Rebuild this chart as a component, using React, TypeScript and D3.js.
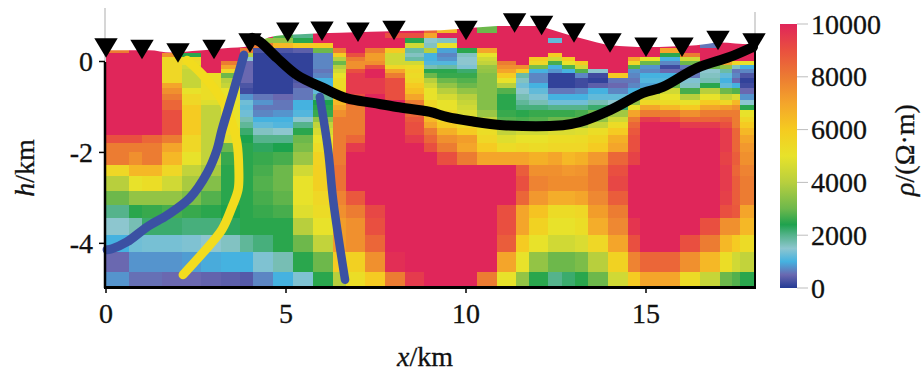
import React from "react";
import * as d3 from "d3";

const W = 921, H = 377;
const SERIF = "'Liberation Serif', serif";

// Cell edges (km)
const colEdges = [0,.64,1,1.56,2.11,2.64,3.19,3.72,4.08,4.64,5.19,5.75,6.31,6.67,7.19,7.75,8.31,8.83,9.19,9.75,10.31,10.86,11.39,11.75,12.28,12.67,13.03,13.39,13.94,14.5,14.83,15.39,15.94,16.5,17.06,17.39,17.61,18];
const rowEdges = [.78,.63,.52,.41,.3,.19,.1,.01,-.08,-.16,-.25,-.36,-.47,-.58,-.71,-.85,-.96,-1.07,-1.22,-1.33,-1.46,-1.62,-1.79,-1.99,-2.27,-2.52,-2.85,-3.15,-3.44,-3.81,-4.19,-4.63,-4.96];

// Resistivity (thousand ohm-metres), one list per column, top to bottom
const resistivity = [
[10,10,10,10,8,10,10,10, 10,10,10,10,10,10,10,10, 10,10,10,10,10,9,8,8, 5.5,4,3,2,1.5,1,.5,.8],
[10,10,10,10,10,10,10,10, 10,10,10,10,10,10,10,10, 10,10,10,10,10,9,8,7.5, 6.5,5,3.5,2.5,1.7,1.3,.8,.55],
[10,10,10,10,10,10,10,10, 10,10,10,10,10,10,10,10, 10,10,10,10,10,8.5,8,8, 6.5,5.2,3.5,2.6,2.2,1.35,.8,.55],
[10,10,10,10,10,7.5,5.5,5.5, 5.5,5.5,5.5,5.5,7,7.5,8,8.5, 8.5,9,9,9,9,8,7,6.5, 5.5,4.5,3.5,2.7,2.2,1.35,.8,.5],
[10,10,10,10,10,2.5,5.5,5.3, 4.5,4.3,4.3,4.3,4.3,5,5.5,5.5, 6,6,6,6,6,5.5,5.5,5, 4.2,3.8,3.2,2.6,2.1,1.4,.85,.5],
[10,10,10,10,10,10,10,10, 10,10,5.2,5.2,5.2,5.2,5.2,4.8, 4.2,4.2,4.2,4.2,4.2,4.2,4.2,4.2, 3.8,3.3,2.8,2.5,2.1,1.5,.95,.45],
[10,10,10,10,10,10,10,8, 7,5.5,3,4,4.3,5,5,5, 5,5,5,5,5.2,4.8,3,2.6, 2.5,2.5,2.5,2.4,2.3,1.6,1,.4],
[10,10,10,10,8,4,1.5,.5, .5,.5,.5,.5,.3,.2,.8,1.3, 1.2,1.3,1.7,1.9,2.2,2.4,2.5,2.5, 2.5,2.5,2.5,2.5,2.5,1.9,1,.35],
[10,10,3.5,8,.3,.1,.1,.1, .1,.1,.1,.1,.1,.1,.6,.8, .6,.7,1,1.2,1.6,2,2.3,2.6, 2.7,2.8,2.7,2.6,2.5,2.1,1.4,.7],
[10,2.8,3.5,6.5,.3,.1,.1,.1, .1,.1,.1,.1,.1,.1,.5,.6, .6,.8,1,1.1,1.5,2,2.4,2.7, 3,3,2.9,2.7,2.5,2.5,1.7,1],
[10,2,2.5,6,.4,.1,.1,.1, .1,.1,.1,.3,.4,.6,.6,1, 1,1.1,1.5,2,2.5,3,3.2,3.6, 4.5,5,5,4.8,4,3,2.5,1.4],
[10,10,10,6,3,.7,.7,.7, .7,.6,.7,1,1,1.2,1.9,2.4, 2.5,2.6,3.5,4.2,4.6,5,5.3,5.7, 5.8,5.8,5.5,5.3,5,4.2,3,2.5],
[10,10,10,10,8,6,4,3, 4,4.5,5,5.3,5.3,5.5,6,6.5, 7,7.5,8,8,8,8,8,8, 8.2,8.2,7.8,7.5,7.2,7.2,6,4],
[10,10,10,10,10,9,8,7.5, 7.5,9,9.5,9.5,9.5,9.5,9,8.5, 8,8,8,8,8,8.5,9.5,10, 10,10,8.8,8,7.5,7.5,5.8,5.2],
[10,10,10,10,8,7.2,7.2,7.5, 9,10,10,9.5,9.5,9.5,10,10, 10,10,10,10,10,10,10,10, 10,10,10,9.2,9,8.5,7.5,6],
[10,9,10,10,6,4.5,4.5,4.5, 5.5,7,8,9,9,9,9,10, 10,10,10,10,10,10,10,10, 10,10,10,10,10,10,9.8,8],
[10,9,2.5,4.5,1.8,1.6,1.8,4.5, 5.2,5.5,5.3,5.5,6,6.3,7,8, 8,8.5,8.8,9,9,9.5,10,10, 10,10,10,10,10,10,10,9.5],
[8.5,7,1.5,1.6,4,1,1,1.1, 1.7,2.5,3,4,4.5,5,5,5.5, 5.5,6,6.5,7,8,8.5,9,10, 10,10,10,10,10,10,10,10],
[6.5,10,1.6,5,.9,.7,.8,1.1, 1.8,2.5,2.6,3,3.5,4,4.6,5, 5,5.5,5.5,6,6.7,7.5,8,9, 10,10,10,10,10,10,10,10],
[10,10,10,10,2.5,1.6,1.5,1.5, 1.4,2.2,2.6,2.8,3,3.5,4,4.3, 4.5,4.7,5,5.5,6,7.2,7,8, 10,10,10,10,10,10,10,10],
[3,10,10,10,7,5,4.5,4.2, 3.6,3.5,3.3,3.3,3.3,3.3,3.3,3.3, 3.3,3.6,4.2,5,5.2,5.5,6,7, 10,10,10,10,10,10,10,8],
[10,10,10,10,10,10,10,8, 7.5,7,6,5,4,2.8,2.5,2.5, 2.5,2.6,2.8,3.5,4.2,4.8,5.3,7, 10,10,10,9,9,8.7,7,5],
[10,10,10,10,10,10,10,10, 7.5,6,1.8,1.6,1.3,1.5,1.7,1.9, 2.1,2.5,2.7,3.5,4.5,5,5.5,7, 8.7,9,8.5,7,7,6,5,3.5],
[10,10,10,10,10,10,6,5.5, 3.2,1,.7,.7,1,1.2,1.4,1.7, 2.1,2.6,2.8,3.5,4.5,5,5.3,6.7, 7.5,7.8,7.3,6.2,5.7,5,3.5,2.5],
[10,10,1.2,10,10,6,4.5,2.7, 1,.8,.1,.1,.1,.6,1,1.3, 2,2.6,3,3.7,4.7,5.2,5.5,7, 7.5,7.6,6.8,5.3,5,4.5,3,2],
[10,10,10,10,10,10,6,5, 2.8,1,.1,.1,.1,.6,1,1.3, 2,2.6,3,3.7,4.7,5.2,5.5,6.5, 7.3,7.6,6.8,5.3,5,4.5,3,2.2],
[10,10,10,10,10,10,10,6, 4.5,2.8,.7,.2,.2,.7,1,1.3, 2,2.7,3,3.7,4.8,5.3,5.5,6.7, 7.4,7.6,7,5.5,5.2,4.7,3.2,2.5],
[10,10,10,10,10,10,10,10, 10,1.5,.2,.1,.4,1,1.2,1.7, 2.2,3,3.5,4.3,5.2,5.6,6,7.3, 8,8,7.7,7.2,6.8,5.5,4,3],
[10,10,10,10,10,10,10,10, 10,10,6,.6,.5,.7,1.2,1.5, 2.2,3.7,4.5,5.3,6,6.7,7,8.5, 9,9.2,8.7,8,7.7,7,5.7,4.5],
[10,10,10,10,10,10,7,5.5, 2.8,.8,.7,.6,.7,1,1.5,3.5, 5,7,8,8.5,8.8,9,9,9.3, 10,10,10,10,9.6,9,7.8,6],
[10,10,10,10,10,10,5,3, .8,.7,1,1.1,.9,2.6,4.5,5.5, 7,8,9.5,10,10,10,10,10, 10,10,10,10,10,10,8.5,7],
[10,10,10,10,7,2.5,1,.7, .2,.5,1,1.1,3,4.5,5,5.3, 6.5,8,9,10,10,10,10,10, 10,10,10,10,10,10,8.5,7],
[10,10,10,10,10,8,4.5,3, .6,.4,.6,1.4,1.6,2.7,4,5, 6,7.5,8.5,9.5,10,10,10,10, 10,10,10,10,10,9,7.5,5.3],
[10,10,10,.6,10,10,10,5.5, 3,1.5,1.6,1.7,2.5,4,5,6, 7,8,8.5,9.5,10,10,10,10, 10,10,10,10,9,8,6.5,4.3],
[10,10,10,10,10,10,10,7, 3.5,1.8,1.2,1,1.2,3,4.3,5.5, 7.2,8,8.6,9,9.5,9.5,9.5,9.3, 9.5,9.5,9.4,9,7.5,6.5,5.2,3],
[10,10,10,10,10,10,10,5.5, 1.6,.6,.7,.5,1,2.8,4.7,6.5, 7.5,8,8,8,8.5,8.5,8.5,8.7, 8.5,8.7,8.7,8.8,7.5,6,4.5,2.8],
[10,10,10,10,10,10,10,5, 1,.7,.3,.1,.2,.5,.8,1.5, 2.5,5,5.5,6,6.5,7,7.3,7.5, 7.8,8,8,7,6.5,5.3,4.2,2.5],
];

// Colour ramp
const rampStops = [0,.5,1,1.5,2,2.4,3,4,5,6,7,8,9,10];
const rampColors = ["#233A94","#6A68B0","#45B2E0","#8DC6CF","#55B38C","#1FA24E","#6DB84C","#B8CF3E","#E8E22A","#F5CB20","#F4A52B","#EC7B32","#E9503F","#E0255A"];

// Surface and stations (km)
const terrainX = [0,1.2,1.8,2.6,3.3,4,4.33,4.7,5.4,6.5,8.2,9.3,10.86,11.78,12.25,12.7,13.64,14,15.03,16.4,17.06,17.9,18];
const terrainH = [.25,.25,.2,.24,.29,.34,.47,.56,.6,.63,.67,.69,.78,.8,.73,.62,.42,.36,.32,.36,.42,.38,.38];
const stationX = [0,1,2,3,4,5.05,6,7,8,10,11.35,12.1,13,14,15,16,17,18];
const stationTip = [.08,.05,-.03,.05,.19,.43,.45,.43,.47,.47,.63,.58,.41,.19,.1,.1,.25,.19];

// Interpreted boundaries (km)
const blackX = [4.06,4.28,4.75,5.31,6.03,6.69,7.42,8.08,9,9.47,10.11,11.03,12.69,13.17,14,14.92,15.47,16.42,17.33,17.97];
const blackH = [.52,.43,.08,-.3,-.58,-.81,-.91,-1,-1.11,-1.22,-1.31,-1.4,-1.4,-1.33,-1.07,-.69,-.56,-.14,.1,.32];
const blueAX = [3.83,3.53,3.22,3.08,2.81,2.33,1.72,1.14,.58,.17,.03];
const blueAH = [.14,-.69,-1.51,-1.95,-2.45,-3,-3.37,-3.64,-3.97,-4.12,-4.14];
const blueBX = [5.94,6.17,6.31,6.64];
const blueBH = [-.78,-1.95,-3.05,-4.8];
const yellowX = [2.25,2.69,3.17,3.5,3.64,3.69,3.67,3.5,3.22,2.69,2.14];
const yellowH = [.03,-.3,-.78,-1.35,-1.79,-2.38,-2.82,-3.2,-3.7,-4.21,-4.69];

const xTicks = [0,5,10,15];
const yTicks = [0,-2,-4];
const legendTicks = [0,2000,4000,6000,8000,10000];

const x = d3.scaleLinear().domain([0,18]).range([106,754]);
const y = d3.scaleLinear().domain([0,-4.96]).range([61.5,287]);
const colour = d3.scaleLinear<string>().domain(rampStops).range(rampColors).clamp(true);
const legendY = d3.scaleLinear().domain([0,10000]).range([288,24]);

const lineOf = (xs:number[],hs:number[]) =>
  d3.line<number>().x((d)=>x(xs[d])).y((d)=>y(hs[d])).curve(d3.curveCatmullRom.alpha(.5))(xs.map((_,i)=>i))!;
const terrainPath = d3.area<number>().x((d)=>x(terrainX[d])).y0(y(-4.96)).y1((d)=>y(terrainH[d])).curve(d3.curveMonotoneX)(terrainX.map((_,i)=>i))!;

const FS = 28;

export default function App(){
  return (
    <svg width={W} height={H} viewBox={`0 0 ${W} ${H}`} style={{position:"absolute",left:0,top:0,background:"#fff"}} fontFamily={SERIF} fontSize={FS} fill="#111">
      <style>{"text{stroke:#111;stroke-width:.3px}"}</style>
      <defs>
        <clipPath id="terrain"><path d={terrainPath}/></clipPath>
        <filter id="soft" x="-2%" y="-2%" width="104%" height="104%"><feGaussianBlur stdDeviation="0.7"/></filter>
        <linearGradient id="ramp" x1="0" y1="1" x2="0" y2="0">
          {rampStops.map((s,i)=><stop key={s} offset={s/10} stopColor={rampColors[i]}/>)}
        </linearGradient>
      </defs>

      <g clipPath="url(#terrain)">
        <g filter="url(#soft)">
          {resistivity.map((col,i)=>col.map((v,j)=>(
            <rect key={`${i}-${j}`} x={x(colEdges[i])} width={x(colEdges[i+1])-x(colEdges[i])+.5}
              y={y(rowEdges[j])} height={y(rowEdges[j+1])-y(rowEdges[j])+.5} fill={colour(v)} shapeRendering="crispEdges"/>
          )))}
        </g>
      </g>

      <g fill="none" strokeLinecap="round" strokeLinejoin="round">
        <path d={lineOf(yellowX,yellowH)} stroke="#F2DC1E" strokeWidth={9}/>
        <path d={lineOf(blueAX,blueAH)} stroke="#3B51A3" strokeWidth={9}/>
        <path d={lineOf(blueBX,blueBH)} stroke="#3B51A3" strokeWidth={8.5}/>
        <path d={lineOf(blackX,blackH)} stroke="#000" strokeWidth={10}/>
      </g>

      {/* frame */}
      <line x1={105} x2={105} y1={8} y2={62} stroke="#c8c8c8" strokeWidth={1.5}/>
      <line x1={105} x2={105} y1={62} y2={288} stroke="#000" strokeWidth={2.5}/>
      <line x1={755} x2={755} y1={12} y2={50} stroke="#c8c8c8" strokeWidth={1.5}/>
      <line x1={755} x2={755} y1={50} y2={288} stroke="#000" strokeWidth={2}/>
      <line x1={104} x2={756} y1={287.5} y2={287.5} stroke="#000" strokeWidth={3}/>
      {yTicks.map((t)=>(
        <g key={t}>
          <line x1={99} x2={105} y1={y(t)} y2={y(t)} stroke="#000" strokeWidth={1.5}/>
          <text x={93} y={y(t)+9.5} textAnchor="end">{t === 0 ? "0" : `-${Math.abs(t)}`}</text>
        </g>
      ))}
      {xTicks.map((t)=>(
        <g key={t}>
          <line x1={x(t)} x2={x(t)} y1={288} y2={293} stroke="#000" strokeWidth={1.5}/>
          <text x={x(t)} y={323} textAnchor="middle">{t}</text>
        </g>
      ))}

      {stationX.map((sx,i)=>{
        const tx=x(sx), ty=y(stationTip[i]);
        return <path key={sx} d={d3.line()([[tx,ty],[tx-11.7,ty-19.5],[tx+11.7,ty-19.5]])+"Z"} fill="#000"/>;
      })}

      <text x={425} y={366} textAnchor="middle"><tspan fontStyle="italic">x</tspan>/km</text>
      <text transform="translate(34,168) rotate(-90)" textAnchor="middle"><tspan fontStyle="italic">h</tspan>/km</text>

      {/* legend */}
      <rect x={780} y={legendY(10000)} width={17} height={legendY(0)-legendY(10000)} fill="url(#ramp)"/>
      {legendTicks.map((t)=>(
        <g key={t}>
          <line x1={797} x2={808} y1={legendY(t)} y2={legendY(t)} stroke="#bdbdbd" strokeWidth={1}/>
          <text x={811} y={legendY(t)+9.5}>{t}</text>
        </g>
      ))}
      <text transform="translate(914,150) rotate(-90)" textAnchor="middle"><tspan fontStyle="italic">ρ</tspan>/(Ω·m)</text>
    </svg>
  );
}
